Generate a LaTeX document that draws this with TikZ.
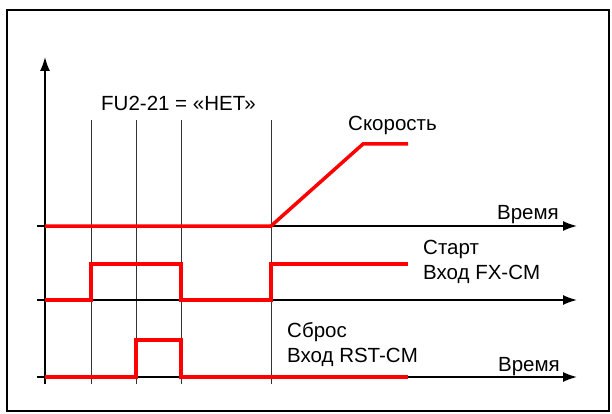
\documentclass[tikz,border=0pt]{standalone}
\usepackage{fontspec}
\setmainfont{Liberation Sans}
\usetikzlibrary{arrows.meta}
\begin{document}
\begin{tikzpicture}[x=1pt,y=-1pt,
  axis/.style={line width=1.6pt,-{Latex[length=14pt,width=10pt]}},
  guide/.style={line width=0.8pt,black!80},
  sig/.style={line width=3.5pt,red,line join=miter},
  lbl/.style={inner sep=0pt,font=\fontsize{20.5}{24}\selectfont}]
\useasboundingbox (0,0) rectangle (612,414);
\fill[white] (0,0) rectangle (612,414);
\draw[line width=1.6pt] (7,10) rectangle (609,411);
% guides
\foreach \x/\n in {91/a,136/b,181/c,271/d}{
  \coordinate (g\n t) at (\x,120);
  \coordinate (g\n b) at (\x,384);
  \draw[guide] (g\n t) -- (g\n b);
}
% axes
\coordinate (v0) at (45,384);
\coordinate (v1) at (45,57);
\draw[axis] (v0) -- (v1);
\foreach \y/\n in {226/s,300/f,377/r}{
  \coordinate (h\n0) at (37,\y);
  \coordinate (h\n1) at (577,\y);
  \draw[axis] (h\n0) -- (h\n1);
}
% signals
\draw[sig] (45,226) -- (271,226) -- (363,144) -- (408,144);
\draw[sig] (45,300) -- (91,300) -- (91,264) -- (181,264) -- (181,300) -- (271,300) -- (271,264) -- (408,264);
\draw[sig] (45,377) -- (136,377) -- (136,340) -- (181,340) -- (181,377) -- (408,377);
% labels
\node[lbl,anchor=base west] (t1) at (101,111) {FU2-21 = «НЕТ»};
\node[lbl,anchor=base west] (t2) at (348,131) {Скорость};
\node[lbl,anchor=base east] (t3) at (559,219) {Время};
\node[lbl,anchor=base west] (t4) at (423,254) {Старт};
\node[lbl,anchor=base west] (t5) at (423,279) {Вход FX-CM};
\node[lbl,anchor=base west] (t6) at (287,337) {Сброс};
\node[lbl,anchor=base west] (t7) at (287,362) {Вход RST-CM};
\node[lbl,anchor=base east] (t8) at (560,371) {Время};
\end{tikzpicture}
\end{document}
